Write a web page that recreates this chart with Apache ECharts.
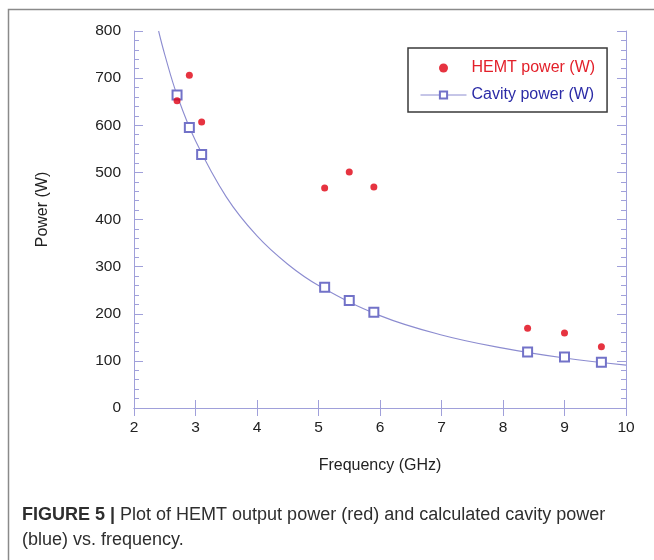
<!DOCTYPE html>
<html>
<head>
<meta charset="utf-8">
<script src="https://cdn.jsdelivr.net/npm/echarts@6/dist/echarts.min.js"></script>
<style>
html,body{margin:0;padding:0;background:#fff;}
#chart{width:654px;height:560px;}
</style>
</head>
<body>
<div id="chart"></div>
<script>
// Data
const freqGHz = [2.7, 2.9, 3.1, 5.1, 5.5, 5.9, 8.4, 9.0, 9.6];
const hemtPower = [652, 706, 607, 467, 501, 469, 169, 159, 130];
const cavityPower = [664, 595, 538, 256, 228, 203, 119, 108, 97];
const fitFreq = [2.4, 2.5, 2.7, 3.0, 3.5, 4.0, 4.5, 5.0, 6.0, 7.0, 8.0, 9.0, 10.0];
const fitPower = [800, 750, 664, 567, 448, 365, 305, 260, 196, 155, 127, 106, 91];
const xTicks = [2, 3, 4, 5, 6, 7, 8, 9, 10];
const yTicks = [0, 100, 200, 300, 400, 500, 600, 700, 800];

const FONT = "'Liberation Sans', Arial, Helvetica, sans-serif";
const AXIS_COLOR = '#a0a0da';

const chart = echarts.init(document.getElementById('chart'), null, {renderer: 'canvas'});

const pair = (xs, ys) => xs.map((x, i) => [x, ys[i]]);

const baseX = {
  type: 'value', min: xTicks[0], max: xTicks[xTicks.length - 1], interval: 1,
  axisLine: {show: true, lineStyle: {color: AXIS_COLOR, width: 1}},
  axisTick: {show: true, inside: true, length: 8, lineStyle: {color: AXIS_COLOR}},
  splitLine: {show: false}
};
const baseY = {
  type: 'value', min: yTicks[0], max: yTicks[yTicks.length - 1], interval: 100,
  axisLine: {show: true, lineStyle: {color: AXIS_COLOR, width: 1}},
  axisTick: {show: true, inside: true, length: 9, lineStyle: {color: AXIS_COLOR}},
  minorTick: {show: true, splitNumber: 5, length: 5, lineStyle: {color: AXIS_COLOR}},
  splitLine: {show: false}, minorSplitLine: {show: false}
};

const option = {
  backgroundColor: '#fff',
  animation: false,
  grid: {left: 134, right: 28, top: 31, bottom: 152, containLabel: false},
  xAxis: [
    Object.assign({}, baseX, {
      position: 'bottom',
      name: 'Frequency (GHz)', nameLocation: 'middle', nameGap: 50,
      nameTextStyle: {fontFamily: FONT, fontSize: 16, color: '#222'},
      axisLabel: {show: true, margin: 12, fontFamily: FONT, fontSize: 15.5, color: '#222'}
    }),
    Object.assign({}, baseX, {position: 'top', axisLabel: {show: false}})
  ],
  yAxis: [
    Object.assign({}, baseY, {
      position: 'left',
      name: 'Power (W)', nameLocation: 'middle', nameGap: 83,
      nameTextStyle: {fontFamily: FONT, fontSize: 16, color: '#222', padding: [0, 0, 0, 20]},
      axisLabel: {show: true, margin: 13, fontFamily: FONT, fontSize: 15.5, color: '#222'}
    }),
    Object.assign({}, baseY, {position: 'right', axisLabel: {show: false}})
  ],
  legend: {
    orient: 'vertical', left: 408, top: 48,
    padding: [10, 12, 7, 12],
    itemGap: 7, itemWidth: 46, itemHeight: 9,
    borderColor: '#3a3a3a', borderWidth: 1.5,
    backgroundColor: '#fff',
    textStyle: {fontFamily: FONT, fontSize: 16, lineHeight: 20},
    data: [
      {name: 'HEMT power (W)', icon: 'circle', textStyle: {color: '#e3202a'}},
      {name: 'Cavity power (W)', textStyle: {color: '#2b2ba6'},
       lineStyle: {color: '#8c8cd0', width: 1, opacity: 1}}
    ]
  },
  series: [
    {
      name: 'fit', type: 'line', xAxisIndex: 0, yAxisIndex: 0,
      data: pair(fitFreq, fitPower), smooth: 0.4, showSymbol: false, symbol: 'none',
      lineStyle: {color: '#8c8cd0', width: 1.1}, silent: true, z: 1, clip: true
    },
    {
      name: 'Cavity power (W)', type: 'line', xAxisIndex: 0, yAxisIndex: 0,
      data: pair(freqGHz, cavityPower), symbol: 'emptyRect', symbolSize: 9,
      itemStyle: {color: '#7272c8', borderColor: '#7272c8', borderWidth: 1},
      lineStyle: {opacity: 0, width: 1, color: '#8c8cd0'}, z: 3
    },
    {
      name: 'HEMT power (W)', type: 'scatter', xAxisIndex: 0, yAxisIndex: 0,
      data: pair(freqGHz, hemtPower), symbol: 'circle', symbolSize: 7,
      itemStyle: {color: '#e00010'}, z: 4
    }
  ],
  graphic: [
    {
      type: 'rect', left: 6, top: 7, silent: true, z: -10,
      shape: {width: 700, height: 600},
      style: {fill: 'none', stroke: '#8a8a8a', lineWidth: 1.5}
    },
    {
      type: 'text', left: 22, top: 503, z: 10,
      style: {
        text: '{b|FIGURE 5 |} Plot of HEMT output power (red) and calculated cavity power\n(blue) vs. frequency.',
        font: "18px " + FONT,
        fill: '#2e2e2e',
        lineHeight: 25,
        rich: {b: {fontWeight: 'bold', fontSize: 18, fontFamily: FONT, fill: '#2e2e2e', lineHeight: 25}}
      }
    }
  ]
};
chart.setOption(option);
</script>
</body>
</html>
